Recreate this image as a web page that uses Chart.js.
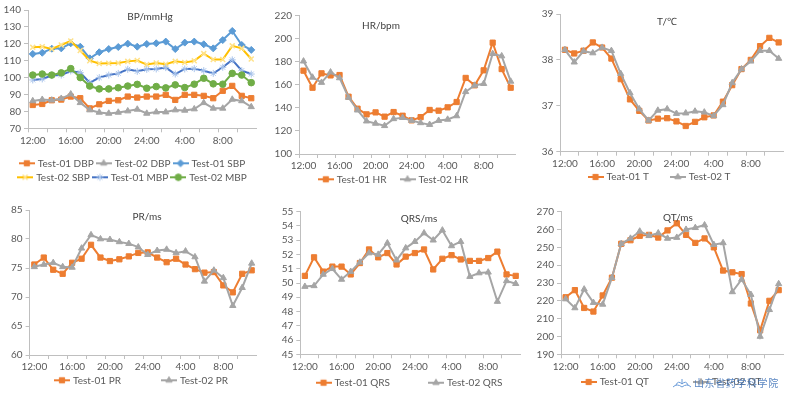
<!DOCTYPE html>
<html><head><meta charset="utf-8">
<script src="https://cdn.jsdelivr.net/npm/chart.js@4.4.1/dist/chart.umd.min.js"></script>
<style>
html,body{margin:0;padding:0;background:#fff;}
#wrap{position:relative;width:788px;height:398px;overflow:hidden;background:#fff;}
#wrap canvas{position:absolute;}
#wm{position:absolute;left:694px;top:376px;font-family:"Noto Sans CJK SC",sans-serif;font-size:10px;line-height:14px;color:#3f73b8;letter-spacing:0.6px;opacity:0.85;white-space:nowrap;}
#wmlogo{position:absolute;left:672px;top:378px;}
</style></head><body>
<div id="wrap">
<canvas id="cBP"></canvas><canvas id="cHR"></canvas><canvas id="cT"></canvas>
<canvas id="cPR"></canvas><canvas id="cQRS"></canvas><canvas id="cQT"></canvas>
<svg id="wmlogo" width="20" height="12" viewBox="0 0 20 12"><path d="M1 9 Q5 5 10 9 Q15 5 19 9 M4 7 Q6 2 10 6 Q14 2 16 7 M10 1 L10 6" stroke="#6a9bd8" stroke-width="1" fill="none"/></svg>
<div id="wm">山东省药学科学院</div>
</div>
<script>
// ---- categories / tick labels ----
const hours = ['12:00','13:00','14:00','15:00','16:00','17:00','18:00','19:00','20:00','21:00','22:00','23:00','24:00','1:00','2:00','3:00','4:00','5:00','6:00','7:00','8:00','9:00','10:00','11:00'];
const labelEvery = 4;

// ---- BP/mmHg ----
const dbp01 = [83.8,84.4,86.6,87.0,88.8,87.8,81.8,84.2,86.2,86.6,88.8,88.2,88.8,88.8,89.8,86.8,89.8,89.8,89.2,87.8,92.2,95.1,89.2,87.8];
const dbp02 = [86.2,87.0,86.6,87.6,90.2,85.1,80.8,79.4,78.8,79.4,80.2,81.2,78.8,79.6,79.6,80.8,80.6,81.4,85.1,81.8,81.8,87.1,86.2,82.7];
const sbp01 = [114.0,114.7,117.1,117.3,120.3,118.3,111.4,115.0,116.9,118.1,120.1,118.3,119.9,120.3,121.3,116.9,120.7,121.3,119.7,117.3,122.2,127.6,119.3,116.4];
const sbp02 = [117.9,118.3,116.9,119.3,121.7,116.0,110.0,108.4,108.5,108.6,109.6,110.1,107.7,108.7,107.9,109.6,108.9,109.9,114.2,110.7,110.7,118.8,117.3,111.0];
const mbp01 = [98.6,99.2,101.2,101.5,103.9,102.9,97.0,100.0,101.5,102.5,104.9,103.7,104.9,105.1,105.9,102.1,105.1,105.3,104.1,102.5,106.1,110.5,104.1,102.1];
const mbp02 = [101.5,102.1,101.5,102.8,105.3,100.0,95.0,93.3,93.3,94.0,95.0,96.0,93.7,94.7,93.9,95.7,94.1,96.1,99.6,96.3,96.1,102.5,101.5,97.0];
// ---- HR/bpm ----
const hr01 = [172.3,157.5,170.0,168.2,168.5,149.7,139.3,134.4,136.1,132.4,136.4,133.2,129.2,132.0,138.2,137.6,140.5,145.1,166.0,159.6,172.6,196.6,173.7,157.5];
const hr02 = [180.5,166.5,162.0,171.0,166.0,149.0,138.0,128.5,126.5,124.5,130.5,131.5,129.0,127.0,125.5,129.0,130.0,133.0,154.0,159.5,161.0,187.0,185.0,163.0];
// ---- T/℃ ----
const t01 = [38.22,38.14,38.20,38.38,38.27,38.03,37.58,37.14,36.89,36.68,36.72,36.73,36.66,36.56,36.65,36.75,36.79,37.09,37.45,37.80,38.00,38.30,38.48,38.38];
const t02 = [38.22,37.95,38.19,38.15,38.27,38.20,37.70,37.28,36.93,36.68,36.90,36.93,36.83,36.84,36.88,36.86,36.78,37.02,37.50,37.80,37.97,38.20,38.20,38.03];
// ---- PR/ms ----
const pr01 = [75.6,76.8,74.7,74.0,75.9,76.6,79.0,76.8,76.2,76.5,77.0,77.6,77.7,76.8,76.0,76.6,75.6,74.8,74.2,74.3,72.0,70.8,74.0,74.6];
const pr02 = [75.2,75.6,75.9,75.2,75.1,78.4,80.7,80.0,79.9,79.5,79.2,78.6,77.3,78.0,78.2,77.6,77.9,76.9,72.7,74.6,73.3,68.5,71.6,75.8];
// ---- QRS/ms ----
const qrs01 = [50.5,51.8,50.8,51.15,51.15,50.6,51.4,52.35,51.8,52.1,51.3,51.85,52.1,52.35,50.95,51.7,51.95,51.65,51.55,51.55,51.75,52.2,50.6,50.5];
const qrs02 = [49.75,49.8,50.6,51.0,50.25,50.8,51.45,52.1,52.0,52.8,51.6,52.45,52.9,53.5,53.0,53.7,52.6,52.9,50.45,50.7,50.75,48.7,50.15,49.95];
// ---- QT/ms ----
const qt01 = [222,226,216,214,223,233,252,254,256.5,257,255.5,259.5,263.5,257,252.5,255,250,237,236,235,218.5,203.5,220,226];
const qt02 = [221,216,226.5,219,218,233,252,255,259,256.5,258,255,255.5,260,261,262.5,251.5,252.5,225,232,223.5,200,215,229.5];

// ---- styling ----
const AXIS = '#BFBFBF', TXT = '#595959';
Chart.defaults.font.family = 'Lato, "Liberation Sans", sans-serif';
Chart.defaults.font.size = 10;
Chart.defaults.color = TXT;

const ST = {
  orange: {line:'#ED7D31', shape:'rect', r:3.7, mark:'#ED7D31', fill:'#ED7D31', bw:1},
  gray:   {line:'#A5A5A5', shape:'triangle', r:3.6, mark:'#A5A5A5', fill:'#A5A5A5', bw:1},
  blue:   {line:'#5B9BD5', shape:'rectRot', r:3.5, mark:'#5B9BD5', fill:'#5B9BD5', bw:1},
  gold:   {line:'#FFC000', shape:'crossRot', r:3.5, mark:'#FFE28A', fill:'#FFE28A', bw:1.5},
  navy:   {line:'#4472C4', shape:'star', r:3.5, mark:'#A9C4EB', fill:'#A9C4EB', bw:1},
  green:  {line:'#70AD47', shape:'circle', r:3.3, mark:'#70AD47', fill:'#70AD47', bw:1}
};

function legendIcon(st) {
  const c = document.createElement('canvas');
  c.width = 16; c.height = 10;
  const g = c.getContext('2d');
  g.strokeStyle = st.line; g.lineWidth = 2;
  g.beginPath(); g.moveTo(0,5); g.lineTo(16,5); g.stroke();
  g.fillStyle = st.fill; g.strokeStyle = st.mark; g.lineWidth = st.bw;
  if (Chart.helpers && Chart.helpers.drawPoint) {
    Chart.helpers.drawPoint(g, {pointStyle: st.shape, radius: st.r, borderWidth: st.bw, rotation: 0}, 8, 5);
  } else {
    g.fillRect(5, 2, 6, 6);
  }
  return c;
}

function series(label, data, st, i, n) {
  return {
    label, data, order: n - 1 - i,
    borderColor: st.line, backgroundColor: st.line, borderWidth: 2, tension: 0, fill: false,
    pointStyle: st.shape, pointRadius: st.r, pointHoverRadius: st.r,
    pointBorderColor: st.mark, pointBackgroundColor: st.fill, pointBorderWidth: st.bw
  };
}

const innerTitle = {
  id: 'innerTitle',
  afterDraw(chart, args, o) {
    const ctx = chart.ctx;
    ctx.save();
    ctx.font = '10px Lato, "Liberation Sans", sans-serif';
    ctx.fillStyle = '#404040';
    ctx.textAlign = 'center';
    ctx.textBaseline = 'middle';
    ctx.fillText(o.text, o.x, o.y);
    ctx.restore();
  }
};
const legendPlace = {
  id: 'legendPlace',
  afterLayout(chart, args, o) {
    const lg = chart.legend;
    if (!lg) return;
    const pad = lg.options.labels.padding;
    lg.left = o.cx - o.half; lg.right = o.cx + o.half; lg.width = 2 * o.half;
    lg.top = o.rowY - 5 - pad; lg.bottom = lg.top + lg.height;
  }
};

function makeChart(spec) {
  const {id, box, area, title, leg, y, list} = spec;
  const cv = document.getElementById(id);
  const rows = leg.rows || 1;
  const legendH = rows * (10 + leg.pad) + 10;
  const H = Math.ceil(area.bottom - box.top + 20 + legendH + 12);
  cv.width = box.width; cv.height = H;
  cv.style.left = box.left + 'px'; cv.style.top = box.top + 'px';
  cv.style.width = box.width + 'px'; cv.style.height = H + 'px';
  const plotBottom = area.bottom - box.top;
  const icons = list.map(s => legendIcon(s[2]));
  const n = list.length;
  return new Chart(cv, {
    type: 'line',
    data: { labels: hours, datasets: list.map((s, i) => series(s[0], s[1], s[2], i, n)) },
    options: {
      responsive: false, animation: false, devicePixelRatio: 1,
      events: [],
      layout: { padding: { left: 0, top: area.top - box.top, right: box.left + box.width - area.right, bottom: 0 } },
      scales: {
        x: {
          offset: true,
          grid: { offset: true, drawOnChartArea: false, drawTicks: true, tickLength: 4,
                  color: c => (c.index % 2 === 0 ? AXIS : 'rgba(0,0,0,0)'),
                  tickColor: c => (c.index % 2 === 0 ? AXIS : 'rgba(0,0,0,0)') },
          border: { display: true, color: AXIS, width: 1 },
          ticks: { autoSkip: false, maxRotation: 0, minRotation: 0, padding: 2, color: TXT,
                   callback: (v, i) => (i % labelEvery === 0 ? hours[i] : '') },
          afterFit: s => { s.height = Math.max(0, H - plotBottom - (s.chart.legend ? s.chart.legend.height : 0)); }
        },
        y: {
          min: y.min, max: y.max,
          ticks: { stepSize: y.step, padding: 3, color: TXT, autoSkip: false },
          grid: { drawOnChartArea: false, drawTicks: true, tickLength: 4, color: AXIS },
          border: { display: true, color: AXIS, width: 1 },
          afterFit: s => { s.width = area.left - box.left; }
        }
      },
      plugins: {
        tooltip: { enabled: false },
        title: { display: false },
        legend: {
          display: true, position: 'bottom', align: 'center',
          labels: {
            usePointStyle: true, pointStyleWidth: 12, padding: leg.pad, color: TXT,
            font: { size: 10 },
            generateLabels: ch => ch.data.datasets.map((d, i) => ({
              text: d.label, fillStyle: d.borderColor, strokeStyle: d.borderColor, lineWidth: 0,
              pointStyle: icons[i], datasetIndex: i, hidden: false, fontColor: TXT
            }))
          }
        },
        innerTitle: { text: title.text, x: title.x - box.left, y: title.y - box.top },
        legendPlace: { cx: leg.cx - box.left, rowY: leg.rowY - box.top, half: leg.half }
      }
    },
    plugins: [innerTitle, legendPlace]
  });
}

makeChart({
  id: 'cBP', box: {left: 0, top: 0, width: 262},
  area: {left: 28, right: 256, top: 10, bottom: 128.3},
  title: {text: 'BP/mmHg', x: 150, y: 17},
  leg: {cx: 133, rowY: 163.3, pad: 4, rows: 2, half: 126},
  y: {min: 70, max: 140, step: 10},
  list: [['Test-01 DBP', dbp01, ST.orange], ['Test-02 DBP', dbp02, ST.gray], ['Test-01 SBP', sbp01, ST.blue],
         ['Test-02 SBP', sbp02, ST.gold], ['Test-01 MBP', mbp01, ST.navy], ['Test-02 MBP', mbp02, ST.green]]
});
makeChart({
  id: 'cHR', box: {left: 200, top: 0, width: 325},
  area: {left: 299, right: 515.2, top: 15.7, bottom: 154},
  title: {text: 'HR/bpm', x: 381, y: 26},
  leg: {cx: 394, rowY: 179.3, pad: 15, half: 160},
  y: {min: 100, max: 220, step: 20},
  list: [['Test-01 HR', hr01, ST.orange], ['Test-02 HR', hr02, ST.gray]]
});
makeChart({
  id: 'cT', box: {left: 460, top: 0, width: 328},
  area: {left: 560.3, right: 786.4, top: 14, bottom: 151.7},
  title: {text: 'T/℃', x: 667, y: 21.7},
  leg: {cx: 660, rowY: 177, pad: 23, half: 160},
  y: {min: 36, max: 39, step: 1},
  list: [['Teat-01 T', t01, ST.orange], ['Test-02 T', t02, ST.gray]]
});
makeChart({
  id: 'cPR', box: {left: 0, top: 200, width: 262},
  area: {left: 29.6, right: 256.4, top: 210, bottom: 355},
  title: {text: 'PR/ms', x: 147, y: 216.7},
  leg: {cx: 142, rowY: 380.3, pad: 42, half: 160},
  y: {min: 60, max: 85, step: 5},
  list: [['Test-01 PR', pr01, ST.orange], ['Test-02 PR', pr02, ST.gray]]
});
makeChart({
  id: 'cQRS', box: {left: 200, top: 200, width: 325},
  area: {left: 300.3, right: 524, top: 211.7, bottom: 354.3},
  title: {text: 'QRS/ms', x: 419, y: 219},
  leg: {cx: 410, rowY: 382.7, pad: 40, half: 160},
  y: {min: 45, max: 55, step: 1},
  list: [['Test-01 QRS', qrs01, ST.orange], ['Test-02 QRS', qrs02, ST.gray]]
});
makeChart({
  id: 'cQT', box: {left: 460, top: 200, width: 328},
  area: {left: 561, right: 785, top: 211.7, bottom: 354.3},
  title: {text: 'QT/ms', x: 678, y: 217.3},
  leg: {cx: 672, rowY: 382, pad: 46, half: 160},
  y: {min: 190, max: 270, step: 10},
  list: [['Test-01 QT', qt01, ST.orange], ['Test-02 QT', qt02, ST.gray]]
});
</script>
</body></html>
